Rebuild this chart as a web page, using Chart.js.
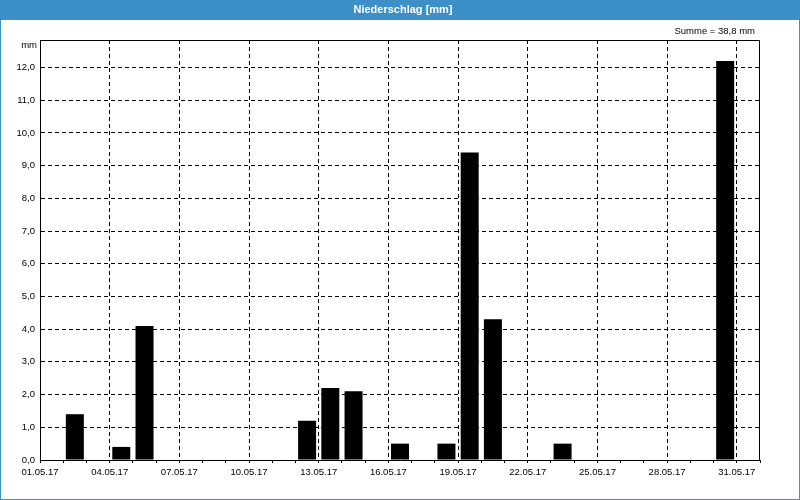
<!DOCTYPE html>
<html><head><meta charset="utf-8">
<script src="https://cdn.jsdelivr.net/npm/chart.js@4"></script>
<style>html,body{margin:0;padding:0;background:#fff}canvas{display:block}</style>
</head><body><canvas id="c" width="800" height="500"></canvas>
<script>
// Daily precipitation, May 2017 (index 0 = 01.05.17)
const dayLabels = ['01.05.17','02.05.17','03.05.17','04.05.17','05.05.17','06.05.17','07.05.17','08.05.17','09.05.17','10.05.17','11.05.17','12.05.17','13.05.17','14.05.17','15.05.17','16.05.17','17.05.17','18.05.17','19.05.17','20.05.17','21.05.17','22.05.17','23.05.17','24.05.17','25.05.17','26.05.17','27.05.17','28.05.17','29.05.17','30.05.17','31.05.17'];
const rainfall = [0,1.4,0,0.4,4.1,0,0,0,0,0,0,1.2,2.2,2.1,0,0.5,0,0.5,9.4,4.3,0,0,0.5,0,0,0,0,0,0,12.2,0];
const xTickLabels = ['01.05.17','04.05.17','07.05.17','10.05.17','13.05.17','16.05.17','19.05.17','22.05.17','25.05.17','28.05.17','31.05.17'];
const yTickLabels = ['0,0','1,0','2,0','3,0','4,0','5,0','6,0','7,0','8,0','9,0','10,0','11,0','12,0'];
const titleText = 'Niederschlag [mm]';
const unitText = 'mm';

const FONT = "'Liberation Sans', Arial, sans-serif";
const BLUE = '#3d8fc7';
const total = rainfall.reduce((a,b)=>a+b,0);
const sumText = 'Summe = ' + total.toFixed(1).replace('.', ',') + ' mm';

const frame = {
  id: 'frame',
  beforeDraw(chart) {
    const c = chart.ctx, W = chart.width, H = chart.height;
    c.save();
    c.fillStyle = '#ffffff';
    c.fillRect(0, 0, W, H);
    c.fillStyle = BLUE;
    c.fillRect(0, 0, W, 20);
    c.fillRect(0, 0, 1, H);
    c.fillRect(W - 1, 0, 1, H);
    c.fillRect(0, H - 1, W, 1);
    c.fillStyle = '#ffffff';
    c.font = 'bold 11px ' + FONT;
    c.textAlign = 'center';
    c.textBaseline = 'middle';
    c.fillText(titleText, W / 2 + 3, 10);
    c.restore();
  },
  afterDatasetsDraw(chart) {
    const c = chart.ctx, a = chart.chartArea;
    c.save();
    c.strokeStyle = '#000';
    c.lineWidth = 1;
    c.beginPath();
    c.moveTo(Math.round(a.left) + 0.5, Math.round(a.top) + 0.5);
    c.lineTo(Math.round(a.right) - 0.5, Math.round(a.top) + 0.5);
    c.lineTo(Math.round(a.right) - 0.5, Math.round(a.bottom) + 0.5);
    c.stroke();
    c.fillStyle = '#000';
    c.font = '9.5px ' + FONT;
    c.textBaseline = 'middle';
    c.textAlign = 'right';
    c.fillText(sumText, a.right - 5, 31);
    c.fillText(unitText, a.left - 3, 45);
    c.restore();
  }
};

new Chart(document.getElementById('c'), {
  type: 'bar',
  data: {
    datasets: [{
      data: rainfall.map((v, i) => ({ x: i + 0.5, y: v })),
      backgroundColor: '#000000',
      borderWidth: 0,
      barPercentage: 1,
      categoryPercentage: 0.775
    }]
  },
  options: {
    responsive: false,
    animation: false,
    devicePixelRatio: 1,
    layout: { padding: { top: 40, right: 40, left: 0, bottom: 0 } },
    plugins: { legend: { display: false }, tooltip: { enabled: false }, title: { display: false } },
    scales: {
      x: {
        type: 'linear', min: 0, max: 31, offset: false,
        afterFit(s) { s.height = 40; },
        ticks: {
          stepSize: 1, autoSkip: false, maxRotation: 0, minRotation: 0, padding: 4,
          color: '#000', font: { family: FONT, size: 9.5 },
          callback: (v) => (v % 3 === 0 && xTickLabels[v / 3] !== undefined) ? xTickLabels[v / 3] : ''
        },
        grid: {
          offset: false,
          color: (ctx) => { const v = ctx.tick ? ctx.tick.value : -1; return (v % 3 === 0 && v > 0 && v < 31) ? '#000' : 'rgba(0,0,0,0)'; },
          tickColor: '#000', tickLength: 3, lineWidth: 1
        },
        border: { display: true, color: '#000', width: 1, dash: [4, 3] }
      },
      y: {
        min: 0, max: 12.84,
        afterFit(s) { s.width = 40; },
        ticks: {
          stepSize: 1, padding: 5, color: '#000', font: { family: FONT, size: 9.5 },
          callback: (v) => Number.isInteger(v) && yTickLabels[v] !== undefined ? yTickLabels[v] : ''
        },
        grid: {
          drawTicks: false,
          color: (ctx) => { const v = ctx.tick ? ctx.tick.value : -1; return (Number.isInteger(v) && v > 0) ? '#000' : 'rgba(0,0,0,0)'; },
          lineWidth: 1
        },
        border: { display: true, color: '#000', width: 1, dash: [4, 3] }
      }
    }
  },
  plugins: [frame]
});
</script>
</body></html>
